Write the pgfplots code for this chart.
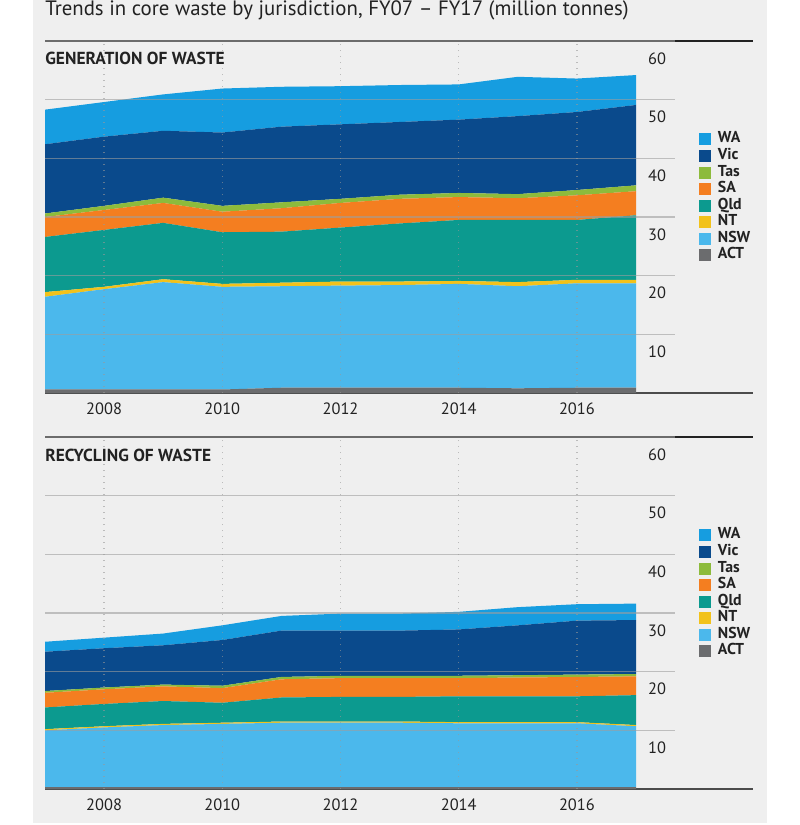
\documentclass[border=0pt]{standalone}
\usepackage{fontspec}
\setmainfont{PT Sans}
\usepackage{pgfplots}
\usepackage{pgfplotstable}
\pgfplotsset{compat=1.18}

\definecolor{waC}{HTML}{169DE0}
\definecolor{vicC}{HTML}{0A4A8C}
\definecolor{tasC}{HTML}{8DBB3C}
\definecolor{saC}{HTML}{F47E20}
\definecolor{qldC}{HTML}{0C9A8F}
\definecolor{ntC}{HTML}{F2C21B}
\definecolor{nswC}{HTML}{4BB8EC}
\definecolor{actC}{HTML}{6B6C6E}
\definecolor{panel}{HTML}{EFEFEF}
\definecolor{ink}{HTML}{222222}

% core waste generated, million tonnes, by jurisdiction
\pgfplotstableread{
year ACT NSW NT Qld SA Tas Vic WA
2007 0.6 15.8 0.8 9.4 3.4 0.6 11.8 5.9
2008 0.6 17.1 0.4 9.7 3.4 0.7 11.8 5.9
2009 0.6 18.3 0.5 9.6 3.4 0.9 11.4 6.2
2010 0.6 17.5 0.5 8.8 3.5 1.0 12.5 7.5
2011 0.9 17.3 0.6 8.7 4.0 1.0 12.9 6.8
2012 0.9 17.4 0.7 9.2 4.2 0.7 12.7 6.5
2013 0.9 17.5 0.6 9.9 4.2 0.7 12.4 6.3
2014 0.9 17.7 0.5 10.4 3.9 0.7 12.5 6.0
2015 0.8 17.4 0.7 10.6 3.7 0.7 13.3 6.7
2016 0.9 17.8 0.6 10.2 4.2 0.9 13.3 5.7
2017 0.9 17.8 0.6 11.0 4.1 1.0 13.7 5.1
}\generation

% core waste recycled, million tonnes, by jurisdiction
\pgfplotstableread{
year ACT NSW NT Qld SA Tas Vic WA
2007 0.3 9.7 0.2 3.7 2.5 0.3 6.7 1.7
2008 0.3 10.2 0.2 3.8 2.5 0.3 6.7 1.8
2009 0.3 10.6 0.2 3.9 2.5 0.3 6.7 2.0
2010 0.3 10.8 0.2 3.4 2.5 0.4 7.8 2.5
2011 0.3 11.0 0.2 4.1 3.1 0.4 7.9 2.5
2012 0.3 11.0 0.2 4.2 3.2 0.4 7.7 2.9
2013 0.3 11.0 0.2 4.2 3.2 0.4 7.7 2.9
2014 0.3 10.9 0.2 4.4 3.1 0.4 7.9 3.0
2015 0.3 10.9 0.2 4.4 3.2 0.4 8.5 3.1
2016 0.3 10.9 0.2 4.4 3.3 0.4 9.2 2.8
2017 0.3 10.4 0.2 5.1 3.2 0.4 9.2 2.8
}\recycling

\pgfplotsset{
  wastepanel/.style={
    scale only axis, width=315pt, height=176pt,
    xmin=2007, xmax=2017.66, ymin=0, ymax=60,
    stack plots=y, no markers, clip=false,
    axis line style={draw=none},
    major tick length=0pt,
    xtick={2008,2010,2012,2014,2016},
    xticklabels={2008,2010,2012,2014,2016},
    ytick={10,20,...,60},
    ytick pos=right, yticklabel pos=right,
    xmajorgrids, ymajorgrids,
    x grid style={black!40, line width=0.7pt, dash pattern=on 0.7pt off 2.3pt, opacity=0.6},
    y grid style={black!38, line width=0.6pt, opacity=0.6},
    axis on top,
    /pgf/number format/assume math mode=true,
    tick label style={font=\fontsize{8.2}{9.6}\selectfont, text=ink},
    xticklabel style={anchor=north, inner sep=0pt, yshift=-4.5pt},
    yticklabel style={anchor=north, inner sep=0pt, xshift=-9pt, yshift=-5.5pt},
    reverse legend,
    legend cell align=left,
    legend image code/.code={\fill[##1] (0pt,-3pt) rectangle (6pt,3pt);},
    legend style={at={(axis description cs:1.038,0.744)}, anchor=north west,
      draw=none, fill=none, inner sep=0pt, outer sep=0pt,
      row sep=0pt, column sep=3.5pt,
      font=\bfseries\fontsize{7.9}{8}\selectfont,
      nodes={inner sep=0pt, text height=5.9pt, text depth=2.39pt, text=ink}},
  },
}

\newcommand{\jurisdictions}[1]{%
  \addplot[fill=actC, draw=none] table[x=year, y=ACT]{#1} \closedcycle;
  \addplot[fill=nswC, draw=none] table[x=year, y=NSW]{#1} \closedcycle;
  \addplot[fill=ntC,  draw=none] table[x=year, y=NT]{#1} \closedcycle;
  \addplot[fill=qldC, draw=none] table[x=year, y=Qld]{#1} \closedcycle;
  \addplot[fill=saC,  draw=none] table[x=year, y=SA]{#1} \closedcycle;
  \addplot[fill=tasC, draw=none] table[x=year, y=Tas]{#1} \closedcycle;
  \addplot[fill=vicC, draw=none] table[x=year, y=Vic]{#1} \closedcycle;
  \addplot[fill=waC,  draw=none] table[x=year, y=WA]{#1} \closedcycle;
  \legend{ACT,NSW,NT,Qld,SA,Tas,Vic,WA}
  \draw[ink, line width=0.65pt] (axis cs:2007,60) -- (axis cs:2018.98,60);
  \draw[black!70, line width=0.7pt] (axis cs:2007,0) -- (axis cs:2018.98,0);
}

\begin{document}
\begin{tikzpicture}
  \fill[white] (0pt,0pt) rectangle (399.5pt,-412.5pt);
  \fill[panel] (16.5pt,0pt) rectangle (383.5pt,-411.5pt);

  \node[anchor=base west, inner sep=0pt, text=ink, font=\fontsize{10.4}{12}\selectfont]
    at (22.5pt,-7.6pt) {Trends in core waste by jurisdiction, FY07 -- FY17 (million tonnes)};

  \begin{axis}[wastepanel, at={(22.5pt,-196.5pt)}, anchor=south west]
    \jurisdictions{\generation}
  \end{axis}
  \node[anchor=base west, inner sep=0pt, text=ink, font=\bfseries\fontsize{8.7}{10}\selectfont]
    at (22.5pt,-32.25pt) {GENERATION OF WASTE};

  \begin{axis}[wastepanel, at={(22.5pt,-394.5pt)}, anchor=south west]
    \jurisdictions{\recycling}
  \end{axis}
  \node[anchor=base west, inner sep=0pt, text=ink, font=\bfseries\fontsize{8.7}{10}\selectfont]
    at (22.5pt,-230.75pt) {RECYCLING OF WASTE};

  \pgfresetboundingbox
  \useasboundingbox (0pt,0pt) rectangle (399.5pt,-412.5pt);
\end{tikzpicture}
\end{document}
